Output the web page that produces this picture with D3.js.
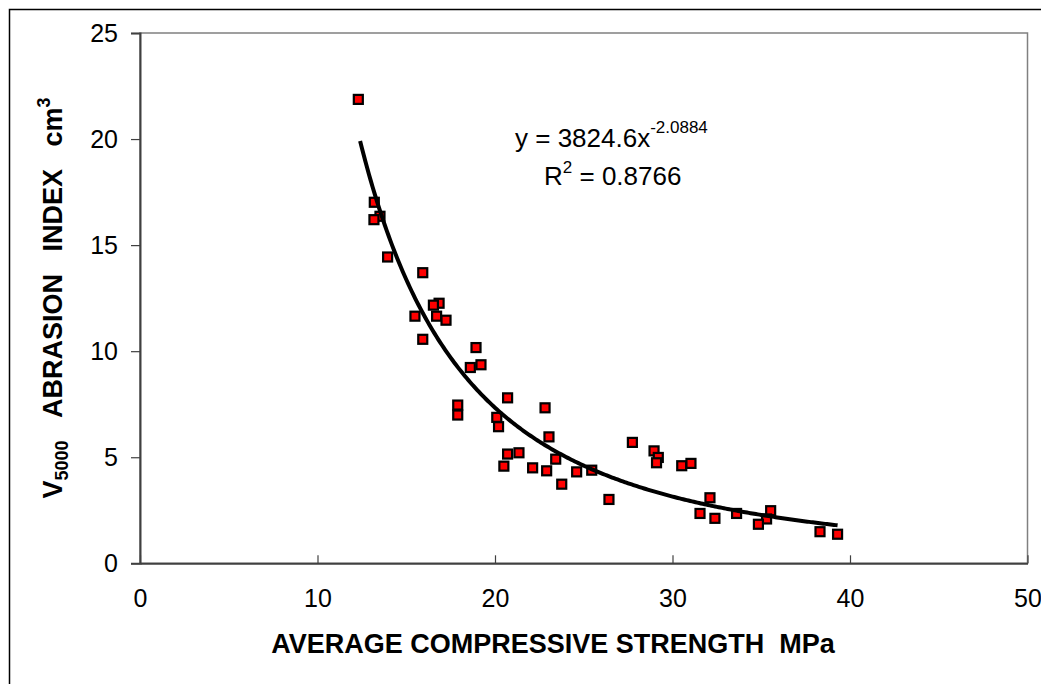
<!DOCTYPE html>
<html>
<head>
<meta charset="utf-8">
<script src="https://cdn.jsdelivr.net/npm/d3@7"></script>
<style>
  body { margin: 0; background: #fff; }
  svg { display: block; font-family: "Liberation Sans", Arial, sans-serif; }
</style>
</head>
<body>
<div id="chart"></div>
<script>
// compressive strength (MPa) and abrasion index (cm3)
const strength = [12.3, 13.2, 13.52, 13.18, 13.95, 15.93, 16.85, 16.53, 15.49, 16.71,
    17.24, 15.93, 18.93, 18.61, 19.21, 20.71, 17.9, 17.9, 20.1, 20.2,
    22.82, 23.04, 20.71, 21.35, 20.5, 22.12, 22.91, 23.42, 24.6, 23.76,
    25.45, 26.42, 27.74, 28.96, 29.2, 29.1, 30.52, 31.04, 32.11, 31.55,
    32.39, 33.61, 35.53, 35.3, 34.84, 38.31, 39.3];
const abrasion = [21.87, 17.02, 16.36, 16.2, 14.44, 13.7, 12.26, 12.17, 11.65, 11.65,
    11.46, 10.56, 10.17, 9.23, 9.36, 7.8, 7.46, 6.99, 6.88, 6.44,
    7.33, 5.96, 5.15, 5.21, 4.58, 4.5, 4.36, 4.91, 4.31, 3.73,
    4.39, 3.01, 5.7, 5.3, 4.99, 4.74, 4.6, 4.71, 3.09, 2.35,
    2.12, 2.35, 2.48, 2.09, 1.84, 1.49, 1.37];

const xTicks = [0, 10, 20, 30, 40, 50];
const yTicks = [0, 5, 10, 15, 20, 25];

// power trendline as printed on the chart
const trendA = 3824.6;
const trendB = -2.0884;
const trendRange = [12.4, 39.3];

const W = 1041, H = 684;
const margin = { top: 33, right: 13.5, bottom: 120.7, left: 140 };
const width = W - margin.left - margin.right;
const height = H - margin.top - margin.bottom;

const svg = d3.select("#chart").append("svg")
    .attr("width", W)
    .attr("height", H);

// outer chart frame (runs off the right and bottom edge)
svg.append("rect")
    .attr("x", 9.5).attr("y", 9.5)
    .attr("width", W + 20).attr("height", H + 20)
    .attr("fill", "none")
    .attr("stroke", "#000")
    .attr("stroke-width", 1.5);

const g = svg.append("g")
    .attr("transform", `translate(${margin.left},${margin.top})`);

const x = d3.scaleLinear().domain([0, 50]).range([0, width]);
const y = d3.scaleLinear().domain([0, 25]).range([height, 0]);

// plot area border
g.append("rect")
    .attr("width", width).attr("height", height)
    .attr("fill", "none")
    .attr("stroke", "#808080")
    .attr("stroke-width", 1.5);

// y axis, ticks outside
const yAxis = g.append("g")
    .call(d3.axisLeft(y).tickValues(yTicks).tickSize(9).tickPadding(13));
yAxis.select(".domain").attr("stroke", "#404040").attr("stroke-width", 2);
yAxis.selectAll(".tick line").attr("stroke", "#404040").attr("stroke-width", 1.2);
yAxis.selectAll("text").style("font-size", "25px").attr("fill", "#000");

// x axis, ticks inside
const xAxis = g.append("g")
    .attr("transform", `translate(0,${height})`)
    .call(d3.axisBottom(x).tickValues(xTicks).tickSizeInner(-8).tickSizeOuter(0).tickPadding(26));
xAxis.select(".domain").attr("stroke", "#404040").attr("stroke-width", 2);
xAxis.selectAll(".tick line").attr("stroke", "#404040").attr("stroke-width", 1.2);
xAxis.selectAll("text").style("font-size", "25px").attr("fill", "#000");

// markers
const pts = strength.map((s, i) => ({ s: s, a: abrasion[i] }));
g.selectAll(".pt")
    .data(pts)
    .enter()
    .append("rect")
    .attr("class", "pt")
    .attr("x", d => x(d.s) - 4.5)
    .attr("y", d => y(d.a) - 4.5)
    .attr("width", 9)
    .attr("height", 9)
    .attr("fill", "#ff0000")
    .attr("stroke", "#000")
    .attr("stroke-width", 2.2);

// trendline on top of the markers
const trendX = d3.range(trendRange[0], trendRange[1], 0.1).concat([trendRange[1]]);
const line = d3.line()
    .x(d => x(d))
    .y(d => y(trendA * Math.pow(d, trendB)));
g.append("path")
    .datum(trendX)
    .attr("d", line)
    .attr("fill", "none")
    .attr("stroke", "#000")
    .attr("stroke-width", 4);

// equation
const eq = svg.append("text")
    .attr("x", 515).attr("y", 147)
    .style("font-size", "26px");
eq.append("tspan").text("y = 3824.6x");
eq.append("tspan").attr("dy", -14).style("font-size", "17px").text("-2.0884");

const r2 = svg.append("text")
    .attr("x", 544).attr("y", 185)
    .style("font-size", "26px");
r2.append("tspan").text("R");
r2.append("tspan").attr("dy", -12).style("font-size", "17px").text("2");
r2.append("tspan").attr("dy", 12).text(" = 0.8766");

// x axis title
svg.append("text")
    .attr("x", 553).attr("y", 653)
    .attr("text-anchor", "middle")
    .style("font-size", "27px")
    .style("font-weight", "bold")
    .text("AVERAGE COMPRESSIVE STRENGTH\u00a0\u00a0MPa");

// y axis title
const yt = svg.append("text")
    .attr("transform", "translate(62,298) rotate(-90)")
    .attr("text-anchor", "middle")
    .style("font-size", "27px")
    .style("font-weight", "bold");
yt.append("tspan").text("V");
yt.append("tspan").attr("dy", 6).style("font-size", "18px").text("5000");
yt.append("tspan").attr("dy", -6).text("\u00a0\u00a0\u00a0ABRASION\u00a0\u00a0\u00a0INDEX\u00a0\u00a0\u00a0cm");
yt.append("tspan").attr("dy", -12).style("font-size", "18px").text("3");
</script>
</body>
</html>
